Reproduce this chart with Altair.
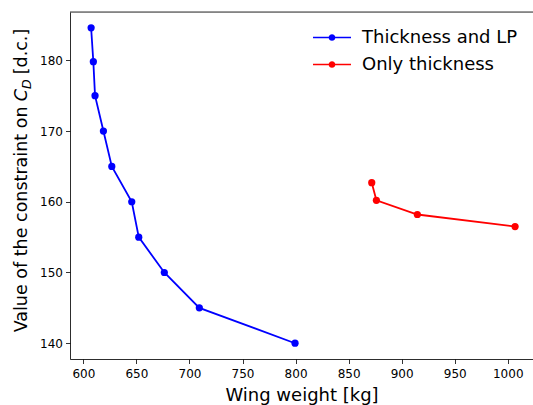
import altair as alt
import pandas as pd

# ---- data ----
series_names = ["Thickness and LP", "Only thickness"]
series_colors = ["#0000ff", "#ff0000"]

lp_weight = [607.3, 609.4, 611.0, 618.9, 626.8, 645.6, 652.2, 676.3, 709.3, 799.5]
lp_cd = [184.6, 179.8, 175.0, 170.0, 165.0, 160.0, 155.0, 150.0, 145.0, 140.0]

th_weight = [871.8, 876.2, 914.8, 1006.9]
th_cd = [162.7, 160.2, 158.2, 156.5]

x_ticks = [600, 650, 700, 750, 800, 850, 900, 950, 1000]
y_ticks = [140, 150, 160, 170, 180]

x_title = "Wing weight [kg]"
y_title_parts = ["Value of the constraint on", "C", "D", "[d.c.]"]

# ---- build table ----
rows = []
for i, (w, c) in enumerate(zip(lp_weight, lp_cd)):
    rows.append({"series": series_names[0], "weight": w, "cd": c, "idx": i})
for i, (w, c) in enumerate(zip(th_weight, th_cd)):
    rows.append({"series": series_names[1], "weight": w, "cd": c, "idx": i})
df = pd.DataFrame(rows)

FONT = "DejaVu Sans"
W, H = 463, 347

# legend symbol: a line segment (thin rectangle) with a dot in the middle
legend_path = (
    "M -2.71 -0.11 L 2.71 -0.11 L 2.71 0.11 L -2.71 0.11 Z "
    "M 0.48 0 A 0.48 0.48 0 1 1 -0.48 0 A 0.48 0.48 0 1 1 0.48 0 Z"
)

x_enc = alt.X(
    "weight:Q",
    scale=alt.Scale(domain=[587.4, 1023.8], nice=False, zero=False),
    axis=alt.Axis(
        values=x_ticks, title=x_title, grid=False, format="d",
        titleFontSize=18, titleFont=FONT, titleFontWeight="normal", titleColor="black",
        titleBaseline="alphabetic", titleY=41,
        labelFontSize=12, labelFont=FONT, labelColor="black", labelPadding=5,
        tickColor="black", tickWidth=0.8, tickSize=4.5,
        domainColor="black", domainWidth=0.8, labelFlush=False,
    ),
)
y_enc = alt.Y(
    "cd:Q",
    scale=alt.Scale(domain=[137.77, 186.83], nice=False, zero=False),
    axis=alt.Axis(
        values=y_ticks, title=None, grid=False, format="d",
        labelFontSize=12, labelFont=FONT, labelColor="black", labelPadding=3,
        tickColor="black", tickWidth=0.8, tickSize=4.5,
        domainColor="black", domainWidth=0.8, labelFlush=False,
    ),
)
color_scale = alt.Scale(domain=series_names, range=series_colors)

base = alt.Chart(df)

points = base.mark_circle(size=52, opacity=1).encode(
    x=x_enc,
    y=y_enc,
    color=alt.Color(
        "series:N", scale=color_scale,
        legend=alt.Legend(
            title=None, orient="none", legendX=253, legendY=16.5,
            symbolType=legend_path, symbolSize=196, symbolStrokeWidth=0,
            symbolOpacity=1, labelFontSize=18, labelFont=FONT, labelColor="black",
            labelOffset=21, rowPadding=9, padding=0, labelLimit=400,
        ),
    ),
)

lines = base.mark_line(strokeWidth=1.8).encode(
    x=alt.X("weight:Q"),
    y=alt.Y("cd:Q"),
    color=alt.Color("series:N", scale=color_scale, legend=None),
    detail="series:N",
    order="idx:Q",
)

one = alt.Data(values=[{"k": 1}])
tx = -43
t1 = alt.Chart(one).mark_text(
    angle=270, align="right", baseline="alphabetic", fontSize=17.5, font=FONT, color="black"
).encode(x=alt.value(tx), y=alt.value(94.5), text=alt.value(y_title_parts[0]))
t2 = alt.Chart(one).mark_text(
    angle=270, align="left", baseline="alphabetic", fontSize=17.5, font=FONT,
    fontStyle="italic", color="black"
).encode(x=alt.value(tx), y=alt.value(89.2), text=alt.value(y_title_parts[1]))
t3 = alt.Chart(one).mark_text(
    angle=270, align="left", baseline="alphabetic", fontSize=12.6, font=FONT,
    fontStyle="italic", color="black"
).encode(x=alt.value(tx + 3.5), y=alt.value(77.1), text=alt.value(y_title_parts[2]))
t4 = alt.Chart(one).mark_text(
    angle=270, align="left", baseline="alphabetic", fontSize=17.5, font=FONT, color="black"
).encode(x=alt.value(tx), y=alt.value(62.3), text=alt.value(y_title_parts[3]))

top_spine = alt.Chart(one).mark_rule(color="black", strokeWidth=0.8).encode(
    x=alt.value(0), x2=alt.value(W), y=alt.value(0)
)

chart = alt.layer(points, lines, top_spine, t1, t2, t3, t4).properties(
    width=W, height=H,
    autosize=alt.AutoSizeParams(type="none"),
    padding={"left": 70, "top": 12, "right": 0, "bottom": 46},
).configure_view(stroke=None).configure(background="white")

chart.save("out.html", embed_options={"renderer": "svg", "actions": False})
